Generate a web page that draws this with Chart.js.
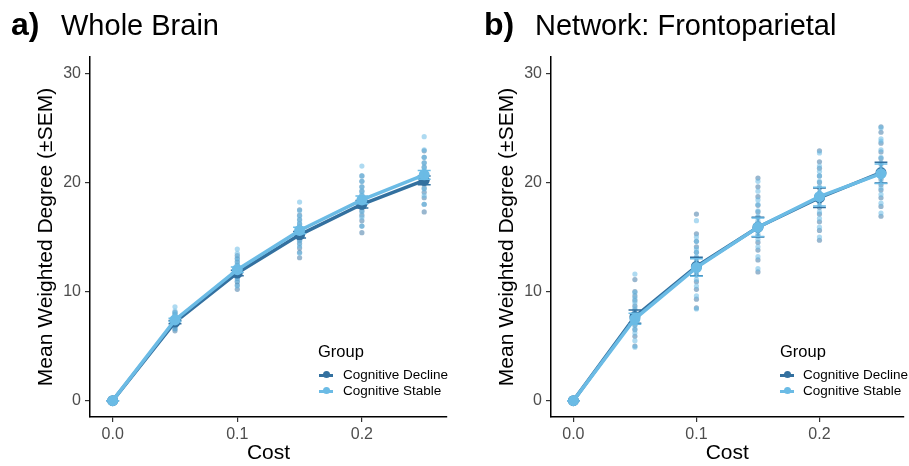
<!DOCTYPE html>
<html>
<head>
<meta charset="utf-8">
<script src="https://cdn.jsdelivr.net/npm/chart.js@4.4.1/dist/chart.umd.min.js"></script>
<style>
  html, body { margin:0; padding:0; background:#fff; }
  body { width:909px; height:466px; position:relative; overflow:hidden; font-family:"Liberation Sans", Arial, sans-serif; }
  canvas { position:absolute; top:0; }
  .tag { position:absolute; font-weight:bold; font-size:32px; line-height:32px; color:#000; }
  .ttl { position:absolute; font-size:29px; line-height:29px; color:#000; }
  .lgt { position:absolute; font-size:16.5px; line-height:18px; color:#000; }
  .lgi { position:absolute; font-size:13.5px; line-height:15px; color:#000; white-space:nowrap; }
  .mk { position:absolute; width:14px; height:8px; }
  .mk .ln { position:absolute; left:0; top:3px; width:14px; height:2.5px; }
  .mk .dt { position:absolute; left:3.5px; top:0.25px; width:7px; height:7px; border-radius:50%; }
</style>
</head>
<body>
<canvas id="cA" width="455" height="466" style="left:0px"></canvas>
<canvas id="cB" width="454" height="466" style="left:455px"></canvas>

<div class="tag" style="left:11px; top:8px">a)</div>
<div class="ttl" style="left:61px; top:11px">Whole Brain</div>
<div class="tag" style="left:484px; top:8px">b)</div>
<div class="ttl" style="left:535px; top:11px">Network: Frontoparietal</div>

<div id="legA"></div>
<div id="legB"></div>

<script>
// ---------------- DATA ----------------
const cost = [0, 0.05, 0.1, 0.15, 0.2, 0.25];
const xTicks = [0, 0.1, 0.2];
const yTicks = [0, 10, 20, 30];
const groups = ['Cognitive Decline', 'Cognitive Stable'];
const panelTitles = ['Whole Brain', 'Network: Frontoparietal'];

// Panel a) Whole Brain — group means and SEM
const wbDeclineMean = [0, 7.2, 11.7, 15.2, 18.0, 20.2];
const wbDeclineSem  = [0, 0.15, 0.25, 0.3, 0.35, 0.4];
const wbStableMean  = [0, 7.4, 12.0, 15.6, 18.4, 20.7];
const wbStableSem   = [0, 0.15, 0.25, 0.3, 0.35, 0.4];

// Panel a) individual subjects per cost
const wbDeclineSubjects = [
  [0, 0, 0],
  [6.4, 6.6, 6.8, 6.9, 7.0, 7.1, 7.2, 7.2, 7.3, 7.4, 7.5, 7.7, 7.9, 8.1],
  [10.2, 10.6, 10.9, 11.2, 11.4, 11.6, 11.7, 11.8, 12.0, 12.2, 12.4, 12.7, 13.0, 13.3],
  [13.1, 13.6, 14.0, 14.4, 14.7, 15.0, 15.2, 15.4, 15.6, 15.9, 16.2, 16.6, 17.0, 17.5],
  [15.4, 16.0, 16.5, 17.0, 17.4, 17.7, 18.0, 18.2, 18.5, 18.8, 19.2, 19.6, 20.1, 20.6],
  [17.3, 18.0, 18.6, 19.1, 19.5, 19.9, 20.2, 20.4, 20.7, 21.0, 21.4, 21.8, 22.3, 22.9]
];
const wbStableSubjects = [
  [0, 0, 0],
  [6.6, 6.9, 7.1, 7.2, 7.3, 7.4, 7.5, 7.6, 7.7, 7.8, 8.0, 8.2, 8.6],
  [10.5, 11.0, 11.3, 11.6, 11.8, 12.0, 12.1, 12.3, 12.5, 12.8, 13.1, 13.5, 13.9],
  [13.5, 14.2, 14.6, 15.0, 15.3, 15.5, 15.7, 15.9, 16.2, 16.5, 16.9, 17.4, 18.2],
  [16.0, 16.8, 17.3, 17.8, 18.1, 18.4, 18.6, 18.9, 19.2, 19.6, 20.1, 20.6, 21.5],
  [18.0, 18.8, 19.4, 19.9, 20.3, 20.6, 20.8, 21.1, 21.4, 21.8, 22.3, 23.0, 24.2]
];

// Panel b) Frontoparietal — group means and SEM
const fpDeclineMean = [0, 7.7, 12.3, 15.9, 18.6, 20.9];
const fpDeclineSem  = [0, 0.6, 0.85, 0.9, 0.9, 0.95];
const fpStableMean  = [0, 7.5, 12.2, 15.9, 18.7, 20.8];
const fpStableSem   = [0, 0.5, 0.8, 0.85, 0.85, 0.9];

const fpDeclineSubjects = [
  [0, 0, 0],
  [5.0, 5.9, 6.5, 6.9, 7.2, 7.5, 7.7, 8.0, 8.3, 8.7, 9.2, 9.6, 10.0, 11.1],
  [8.5, 9.3, 10.2, 10.9, 11.5, 11.9, 12.3, 12.7, 13.1, 13.6, 14.1, 14.6, 15.3, 17.1],
  [11.8, 12.9, 13.8, 14.5, 15.1, 15.6, 15.9, 16.3, 16.8, 17.3, 17.9, 18.7, 19.6, 20.4],
  [14.7, 15.6, 16.4, 17.1, 17.7, 18.2, 18.6, 19.0, 19.5, 20.0, 20.6, 21.3, 21.9, 22.9],
  [16.9, 17.8, 18.6, 19.3, 19.8, 20.3, 20.8, 21.2, 21.7, 22.2, 22.8, 23.6, 24.6, 25.1]
];
const fpStableSubjects = [
  [0, 0, 0],
  [4.9, 5.5, 6.2, 6.6, 7.0, 7.3, 7.5, 7.8, 8.1, 8.5, 9.0, 9.4, 9.9, 11.6],
  [8.4, 9.6, 10.5, 11.1, 11.6, 12.0, 12.4, 12.8, 13.2, 13.6, 13.9, 14.6, 15.0, 16.5],
  [12.1, 13.2, 14.1, 14.8, 15.3, 15.8, 16.1, 16.5, 16.9, 17.4, 18.0, 18.4, 19.2, 20.1],
  [15.0, 15.9, 16.7, 17.3, 17.9, 18.3, 18.7, 19.1, 19.6, 20.1, 20.6, 21.0, 21.5, 22.7],
  [17.2, 18.1, 18.9, 19.5, 20.0, 20.5, 20.9, 21.3, 21.8, 22.3, 23.0, 23.8, 24.0, 25.0]
];

// ---------------- STYLE ----------------
const DARK = '#33709f';
const LIGHT = '#6bbbe5';
const DARK_PT = 'rgba(51,112,159,0.5)';
const LIGHT_PT = 'rgba(107,187,229,0.55)';
const CAP = 0.0052;   // half-width of error-bar caps (x units)

function subjPoints(subjects) {
  const out = [];
  subjects.forEach((vals, i) => vals.forEach(v => out.push({x: cost[i], y: v})));
  return out;
}
function meanPoints(means) { return means.map((m, i) => ({x: cost[i], y: m})); }
function errPoints(means, sems) {
  const out = [];
  means.forEach((m, i) => {
    const c = cost[i], lo = m - sems[i], hi = m + sems[i];
    out.push({x: c, y: lo}, {x: c, y: hi}, {x: c, y: null});
    out.push({x: c - CAP, y: hi}, {x: c + CAP, y: hi}, {x: c, y: null});
    out.push({x: c - CAP, y: lo}, {x: c + CAP, y: lo}, {x: c, y: null});
  });
  return out;
}

function makeChart(id, d, yWidth, titlePad, rightPad) {
  const ds = [
    {label: groups[0] + ' subjects', data: subjPoints(d.decSub), showLine: false, pointRadius: 2.6,
     pointBackgroundColor: DARK_PT, pointBorderWidth: 0, order: 20},
    {label: groups[1] + ' subjects', data: subjPoints(d.stbSub), showLine: false, pointRadius: 2.6,
     pointBackgroundColor: LIGHT_PT, pointBorderWidth: 0, order: 19},
    {label: groups[0], data: meanPoints(d.decMean), showLine: true, borderColor: DARK, borderWidth: 3.5,
     pointRadius: 5.5, pointBackgroundColor: DARK, pointBorderWidth: 0, order: 10},
    {label: groups[0] + ' SEM', data: errPoints(d.decMean, d.decSem), showLine: true, spanGaps: false,
     borderColor: DARK, borderWidth: 1.5, pointRadius: 0, order: 9},
    {label: groups[1], data: meanPoints(d.stbMean), showLine: true, borderColor: LIGHT, borderWidth: 3.5,
     pointRadius: 5.5, pointBackgroundColor: LIGHT, pointBorderWidth: 0, order: 8},
    {label: groups[1] + ' SEM', data: errPoints(d.stbMean, d.stbSem), showLine: true, spanGaps: false,
     borderColor: LIGHT, borderWidth: 1.5, pointRadius: 0, order: 7}
  ];
  return new Chart(document.getElementById(id), {
    type: 'scatter',
    data: {datasets: ds},
    options: {
      responsive: false,
      animation: false,
      events: [],
      layout: {padding: {top: 57, right: rightPad, left: 0, bottom: 0}},
      plugins: {legend: {display: false}, tooltip: {enabled: false}, title: {display: false}},
      scales: {
        x: {
          type: 'linear', min: -0.0182, max: 0.2683,
          afterBuildTicks: s => { s.ticks = xTicks.map(v => ({value: v})); },
          afterFit: s => { s.height = 49; },
          ticks: {callback: v => v.toFixed(1), color: '#4d4d4d', font: {family: 'Liberation Sans', size: 16}, padding: 3, maxRotation: 0},
          grid: {drawOnChartArea: false, drawTicks: true, tickLength: 5, color: '#333', lineWidth: 1.2},
          border: {display: true, color: '#000', width: 1.5},
          title: {display: true, text: 'Cost', color: '#000', font: {family: 'Liberation Sans', size: 21}, padding: {top: 0, bottom: 0}}
        },
        y: {
          type: 'linear', min: -1.5, max: 31.5,
          afterBuildTicks: s => { s.ticks = yTicks.map(v => ({value: v})); },
          afterFit: s => { s.width = yWidth; },
          ticks: {color: '#4d4d4d', font: {family: 'Liberation Sans', size: 16}, padding: 4},
          grid: {drawOnChartArea: false, drawTicks: true, tickLength: 5, color: '#333', lineWidth: 1.2},
          border: {display: true, color: '#000', width: 1.5},
          title: {display: true, text: 'Mean Weighted Degree (\u00B1SEM)', color: '#000', font: {family: 'Liberation Sans', size: 21}, padding: {top: titlePad, bottom: 0}}
        }
      }
    }
  });
}

makeChart('cA', {decSub: wbDeclineSubjects, stbSub: wbStableSubjects, decMean: wbDeclineMean, decSem: wbDeclineSem,
  stbMean: wbStableMean, stbSem: wbStableSem}, 90, 34, 8);
makeChart('cB', {decSub: fpDeclineSubjects, stbSub: fpStableSubjects, decMean: fpDeclineMean, decSem: fpDeclineSem,
  stbMean: fpStableMean, stbSem: fpStableSem}, 96, 40, 1);

// ---------------- LEGENDS (HTML text) ----------------
function legend(el, gx, ix, mx) {
  const colors = [DARK, LIGHT];
  let html = `<div class="lgt" style="left:${gx}px; top:342px">Group</div>`;
  groups.forEach((g, i) => {
    const cy = 375 + i * 16;
    html += `<div class="mk" style="left:${mx}px; top:${cy - 4}px"><div class="ln" style="background:${colors[i]}"></div><div class="dt" style="background:${colors[i]}"></div></div>`;
    html += `<div class="lgi" style="left:${ix}px; top:${cy - 8}px">${g}</div>`;
  });
  document.getElementById(el).innerHTML = html;
}
legend('legA', 318, 343, 319);
legend('legB', 780, 803, 780);
</script>
</body>
</html>
